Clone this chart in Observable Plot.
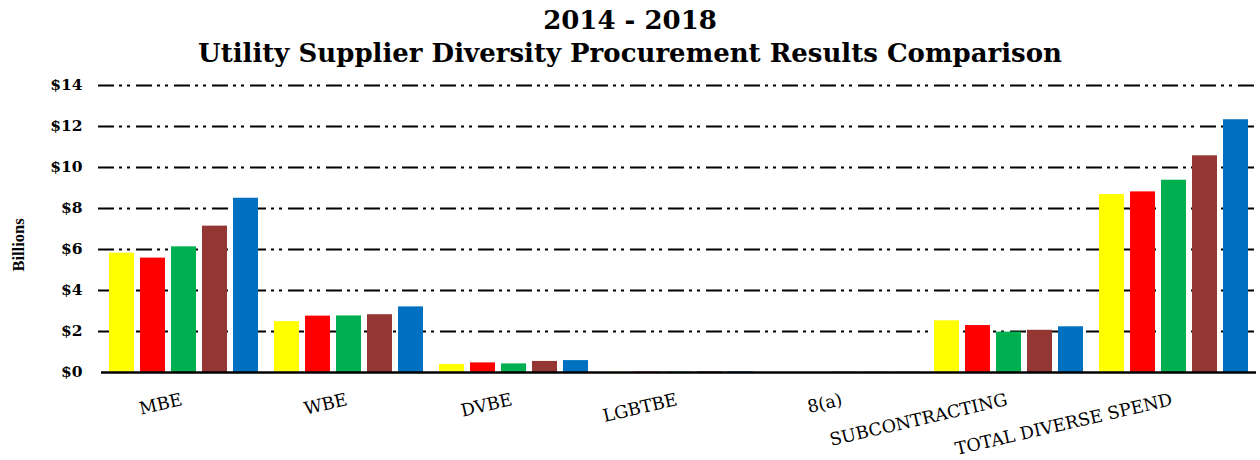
<!DOCTYPE html>
<html>
<head>
<meta charset="utf-8">
<script src="https://cdn.jsdelivr.net/npm/d3@7"></script>
<script src="https://cdn.jsdelivr.net/npm/@observablehq/plot@0.6"></script>
<style>
  html, body { margin: 0; padding: 0; background: #fff; }
  body { width: 1260px; height: 460px; overflow: hidden; }
  #title { font-family: "DejaVu Serif", serif; font-weight: bold; font-size: 26px; line-height: 33px; text-align: center; color: #000; height: 75px; padding-top: 4px; box-sizing: border-box; }
  #chart { position: relative; width: 1260px; height: 385px; }
  #chart svg { display: block; position: absolute; left: 0; top: 0; }
</style>
</head>
<body>
<div id="title">2014 - 2018<br>Utility Supplier Diversity Procurement Results Comparison</div>
<div id="chart"></div>
<script>
const categories = ["MBE", "WBE", "DVBE", "LGBTBE", "8(a)", "SUBCONTRACTING", "TOTAL DIVERSE SPEND"];
const years = ["2014", "2015", "2016", "2017", "2018"];
const colors = ["#FFFF00", "#FF0000", "#00B050", "#943634", "#0070C0"];
// values in $ billions, one array per year, aligned with categories
const v2014 = [5.82, 2.48, 0.39, 0.01, 0.00, 2.52, 8.68];
const v2015 = [5.58, 2.75, 0.47, 0.02, 0.00, 2.29, 8.81];
const v2016 = [6.13, 2.76, 0.42, 0.02, 0.01, 1.97, 9.38];
const v2017 = [7.14, 2.82, 0.54, 0.03, 0.01, 2.06, 10.57];
const v2018 = [8.50, 3.20, 0.58, 0.03, 0.01, 2.23, 12.33];
const yTicks = [0, 2, 4, 6, 8, 10, 12, 14];

const series = [v2014, v2015, v2016, v2017, v2018];
const data = [];
categories.forEach((c, i) => years.forEach((y, j) => data.push({category: c, year: y, value: series[j][i]})));

const frame = {
  width: 1260,
  height: 385,
  marginTop: 10,
  marginBottom: 88,
  marginLeft: 98,
  marginRight: 2
};
const font = "'DejaVu Serif', serif";

// background layer: y axis, axis title and dash-dot-dot gridlines
const back = Plot.plot({
  ...frame,
  style: {fontFamily: font, color: "#000", background: "#fff"},
  y: {domain: [0, 14], ticks: yTicks, label: null},
  marks: [
    Plot.ruleY(yTicks.filter(d => d > 0), {stroke: "#000", strokeWidth: 2.2, strokeDasharray: "16,5,3,5,3,6"}),
    Plot.axisY({ticks: yTicks, tickSize: 0, tickPadding: 16, tickFormat: d => "$" + d, fontSize: 15.5, fontWeight: "bold", label: null}),
    Plot.text(["Billions"], {frameAnchor: "left", textAnchor: "middle", rotate: -90, dx: -80, dy: 16, fontSize: 16.5, fontWeight: "bold", fontFamily: "'Liberation Serif', serif", fill: "#000"})
  ]
});

// foreground layer: grouped bars per category, category labels and baseline
const front = Plot.plot({
  ...frame,
  style: {fontFamily: font, color: "#000", background: "transparent"},
  fx: {domain: categories, padding: 0, label: null},
  x: {domain: years, paddingInner: 0.2, paddingOuter: 0.26, axis: null},
  y: {domain: [0, 14], axis: null},
  color: {domain: years, range: colors},
  marks: [
    Plot.barY(data, {fx: "category", x: "year", y: "value", fill: "year"}),
    Plot.ruleY([0], {stroke: "#000", strokeWidth: 2.5}),
    Plot.axisFx({anchor: "bottom", tickSize: 0, tickRotate: -13, tickPadding: 27, dx: -2, fontSize: 17.5, label: null})
  ]
});
document.getElementById("chart").appendChild(back);
document.getElementById("chart").appendChild(front);
</script>
</body>
</html>
